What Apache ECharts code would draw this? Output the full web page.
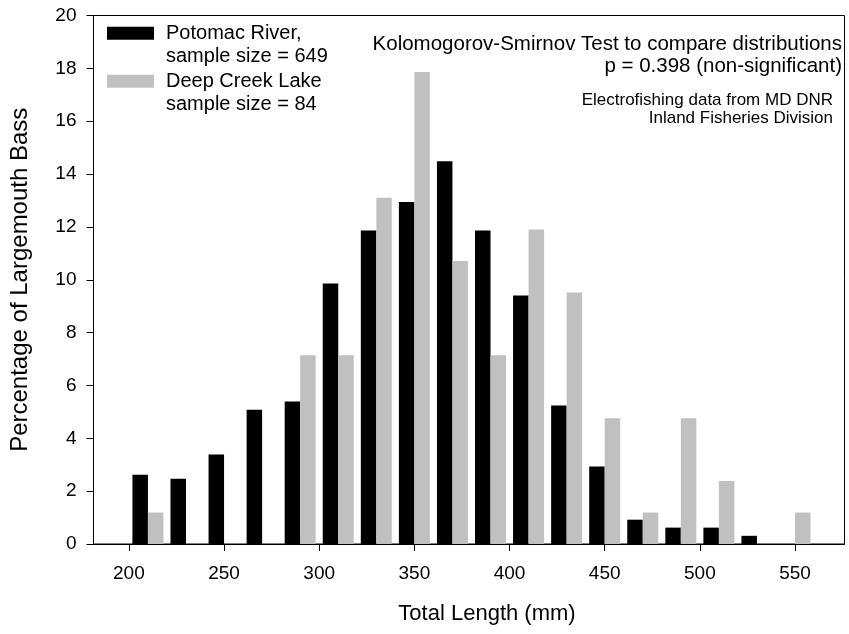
<!DOCTYPE html>
<html>
<head>
<meta charset="utf-8">
<title>Largemouth Bass length distributions</title>
<script src="https://cdn.jsdelivr.net/npm/echarts@6/dist/echarts.min.js"></script>
<style>
    html, body { margin: 0; padding: 0; background: #fff; }
    #main { width: 849px; height: 634px; }
</style>
</head>
<body>
<div id="main"></div>
<script>
// bin centres (mm) and percentages
var binCenters = [210, 230, 250, 270, 290, 310, 330, 350, 370, 390, 410, 430, 450, 470, 490, 510, 530, 550];
var potomac = [2.62, 2.47, 3.39, 5.08, 5.39, 9.86, 11.86, 12.94, 14.48, 11.86, 9.40, 5.24, 2.93, 0.92, 0.62, 0.62, 0.31, 0];
var deepCreek = [1.19, 0, 0, 0, 7.14, 7.14, 13.10, 17.86, 10.71, 7.14, 11.90, 9.52, 4.76, 1.19, 4.76, 2.38, 0, 1.19];
var xTicks = [200, 250, 300, 350, 400, 450, 500, 550];

var potomacName = 'Potomac River,\nsample size = 649';
var deepName = 'Deep Creek Lake\nsample size = 84';

var font = "'Liberation Sans', Arial, sans-serif";

var myChart = echarts.init(document.getElementById('main'), null, { renderer: 'canvas' });

function pairs(vals) {
    return binCenters.map(function (x, i) { return [x, vals[i]]; });
}

// blank first line so the icon sits beside the first line of the label
var legendText = {
    fontFamily: font,
    fontSize: 20,
    lineHeight: 23.5,
    color: '#000',
    padding: [0, 0, 0, 7]
};
function legendFmt(name) {
    return ' \n' + name;
}

option = {
    animation: false,
    textStyle: { fontFamily: font },
    graphic: [{
        type: 'text',
        x: 842,
        y: 33,
        style: {
            text: 'Kolomogorov-Smirnov Test to compare distributions\np = 0.398 (non-significant)',
            align: 'right',
            verticalAlign: 'top',
            fontFamily: font,
            fontSize: 20.5,
            lineHeight: 22,
            fill: '#000'
        }
    }, {
        type: 'text',
        x: 833,
        y: 91,
        style: {
            text: 'Electrofishing data from MD DNR\nInland Fisheries Division',
            align: 'right',
            verticalAlign: 'top',
            fontFamily: font,
            fontSize: 17,
            lineHeight: 18.5,
            fill: '#000'
        }
    }],
    legend: [{
        data: [potomacName],
        orient: 'vertical',
        left: 107,
        top: -2,
        padding: 0,
        itemWidth: 47,
        itemHeight: 13,
        icon: 'rect',
        selectedMode: false,
        formatter: legendFmt,
        textStyle: legendText
    }, {
        data: [deepName],
        orient: 'vertical',
        left: 107,
        top: 46,
        padding: 0,
        itemWidth: 47,
        itemHeight: 13,
        icon: 'rect',
        selectedMode: false,
        formatter: legendFmt,
        textStyle: legendText
    }],
    grid: {
        left: 93.5,
        right: 4.5,
        top: 15.5,
        bottom: 90,
        show: true,
        borderColor: '#000',
        borderWidth: 1,
        containLabel: false
    },
    xAxis: {
        type: 'value',
        min: 181.4,
        max: 576,
        name: 'Total Length (mm)',
        nameLocation: 'middle',
        nameGap: 59,
        nameTextStyle: { fontFamily: font, fontSize: 22, color: '#000', padding: [0, 0, 0, 36] },
        axisLine: { lineStyle: { color: '#000', width: 1 } },
        axisTick: { show: true, inside: false, length: 7, customValues: xTicks, lineStyle: { color: '#000' } },
        axisLabel: { customValues: xTicks, margin: 20, fontFamily: font, fontSize: 19, color: '#000' },
        splitLine: { show: false }
    },
    yAxis: {
        type: 'value',
        min: 0,
        max: 20,
        interval: 2,
        name: 'Percentage of Largemouth Bass',
        nameLocation: 'middle',
        nameGap: 61,
        nameTextStyle: { fontFamily: font, fontSize: 24, color: '#000' },
        axisLine: { show: true, lineStyle: { color: '#000', width: 1 } },
        axisTick: { show: true, inside: false, length: 7, lineStyle: { color: '#000' } },
        axisLabel: { margin: 17, fontFamily: font, fontSize: 19, color: '#000' },
        splitLine: { show: false }
    },
    series: [{
        name: potomacName,
        type: 'bar',
        barWidth: 15.5,
        barGap: '0%',
        itemStyle: { color: '#000' },
        data: pairs(potomac)
    }, {
        name: deepName,
        type: 'bar',
        barWidth: 15.5,
        barGap: '0%',
        itemStyle: { color: '#c0c0c0' },
        data: pairs(deepCreek)
    }]
};

myChart.setOption(option);
</script>
</body>
</html>
